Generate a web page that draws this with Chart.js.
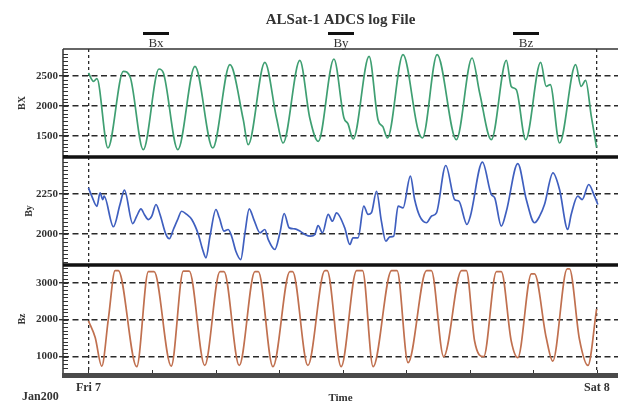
<!DOCTYPE html>
<html>
<head>
<meta charset="utf-8">
<script src="https://cdn.jsdelivr.net/npm/chart.js@4/dist/chart.umd.min.js"></script>
<style>
html,body{margin:0;padding:0;background:#fff;}
#wrap{width:618px;height:407px;}
</style>
</head>
<body>
<div id="wrap"><canvas id="c" width="618" height="407"></canvas></div>
<script>
// ---------- data (hours since Fri 7 00:00) ----------
const chartTitle = 'ALSat-1 ADCS log File';
const seriesNames = ['Bx', 'By', 'Bz'];
const axisTitles = ['BX', 'By', 'Bz'];

const timeTicks = [0, 3, 6, 9, 12, 15, 18, 21, 24];
const timeTickLabels = ['Fri 7', '', '', '', '', '', '', '', 'Sat 8'];
const dateLabel = 'Jan200';
const timeTitle = 'Time';

const bxTicks = [1500, 2000, 2500];
const byTicks = [2000, 2250];
const bzTicks = [1000, 2000, 3000];

const bxTime = [0, 0.24, 0.40, 0.92, 1.65, 1.97, 2.59, 3.33, 3.54, 4.22, 5.03, 5.87, 6.68, 7.31, 7.54, 8.33, 8.88, 9.19, 9.98, 10.45, 10.85, 11.59, 12.06, 12.25, 12.50, 13.25, 13.67, 13.90, 14.12, 14.85, 15.56, 15.77, 16.46, 17.37, 18.11, 18.47, 19.02, 19.73, 19.96, 20.20, 20.64, 21.35, 21.61, 21.80, 22.24, 23.00, 23.26, 23.47, 23.74, 23.99];
const bxValues = [2550, 2410, 2455, 1300, 2577, 2483, 1272, 2617, 2550, 1272, 2660, 1300, 2688, 1772, 1355, 2727, 1800, 1383, 2760, 1800, 1410, 2783, 1805, 1705, 1450, 2827, 1772, 1655, 1467, 2855, 1605, 1467, 2855, 1438, 2800, 2217, 1438, 2760, 2327, 2272, 1438, 2727, 2327, 2355, 1383, 2688, 2327, 2427, 1827, 1305];

const byTime = [0.00, 0.16, 0.40, 0.55, 0.68, 0.74, 1.18, 1.49, 1.70, 2.09,
  2.28, 2.48, 2.64, 2.83, 2.99, 3.19, 3.38, 3.66, 3.82, 4.01,
  4.20, 4.40, 4.64, 4.88, 5.19, 5.39, 5.55, 5.74, 6.02, 6.18,
  6.40, 6.60, 6.76, 6.96, 7.19, 7.39, 7.59, 7.81, 8.10, 8.33,
  8.49, 8.80, 9.04, 9.24, 9.48, 9.75, 9.98, 10.22, 10.49, 10.69,
  10.84, 11.05, 11.32, 11.52, 11.71, 12.10, 12.34, 12.49, 12.73, 13.00,
  13.20, 13.36, 13.60, 13.83, 14.04, 14.23, 14.41, 14.62, 14.85, 15.20,
  15.40, 15.64, 15.96, 16.19, 16.43, 16.87, 17.29, 17.49, 17.87, 18.03,
  18.60, 19.02, 19.18, 19.49, 19.73, 20.27, 20.67, 21.06, 21.30, 21.53,
  21.93, 22.24, 22.63, 22.79, 23.10, 23.31, 23.62, 23.89, 24.05];
const byValues = [2288, 2235, 2172, 2256, 2214, 2235, 2044, 2183, 2273, 2064,
  2110, 2156, 2121, 2089, 2110, 2183, 2121, 1996, 1969, 2027,
  2085, 2141, 2121, 2089, 1996, 1902, 1850, 1985, 2152, 2100,
  2017, 2027, 1985, 1891, 1839, 2006, 2156, 2089, 2006, 2027,
  1964, 1902, 2006, 2127, 2037, 2031, 2017, 1996, 1985, 1996,
  2052, 2006, 2121, 2079, 2131, 2037, 1933, 1975, 1975, 2173,
  2121, 2131, 2266, 2079, 1954, 1981, 1985, 2173, 2162, 2360,
  2214, 2110, 2069, 2110, 2131, 2427, 2214, 2204, 2058, 2110,
  2448, 2246, 2225, 2048, 2141, 2439, 2214, 2069, 2110, 2183,
  2381, 2277, 2027, 2121, 2235, 2214, 2308, 2235, 2183];

const bzTime = [0.00, 0.32, 0.63, 0.94, 1.26, 1.41, 2.28, 2.83, 3.10, 3.91, 4.48, 4.76, 5.49, 6.21, 6.40, 7.12, 7.86, 8.02, 8.71, 9.51, 9.64, 10.36, 11.16, 11.27, 11.93, 12.66, 12.94, 13.44, 14.31, 14.57, 15.09, 15.96, 16.19, 16.77, 17.61, 17.84, 18.23, 18.66, 19.26, 19.49, 19.96, 20.27, 20.91, 21.06, 21.61, 21.92, 22.60, 22.71, 23.18, 23.58, 23.99];
const bzValues = [1967, 1515, 741, 2014, 3330, 3330, 725, 3303, 3303, 741, 3313, 3313, 760, 3303, 3303, 760, 3303, 3303, 725, 3303, 3303, 760, 3330, 3330, 725, 3330, 3330, 725, 3330, 3330, 834, 3330, 3330, 997, 3330, 3330, 1422, 997, 3303, 3303, 1422, 970, 3240, 3240, 1515, 877, 3376, 3376, 1469, 760, 2286];

// ---------- styling ----------
const serif = 'Liberation Serif, Times New Roman, serif';
const ink = '#333333';
const clear = 'rgba(0,0,0,0)';
const colors = ['#3f9f72', '#3f5fbf', '#c0704f'];

function pts(t, v) { return t.map((x, i) => ({ x: x, y: v[i] })); }

function yScale(min, max, major, minorStep, title, titlePad) {
  return {
    type: 'linear', position: 'left', stack: 'panels', stackWeight: 1,
    min: min, max: max,
    afterFit: s => { s.width = 63; },
    afterBuildTicks: s => {
      const t = [];
      for (let v = Math.ceil(min / minorStep) * minorStep; v <= max; v += minorStep) t.push({ value: v });
      s.ticks = t;
    },
    ticks: {
      autoSkip: false, padding: 1, color: ink,
      font: { family: serif, weight: 'bold', size: 11 },
      callback: v => major.includes(v) ? String(v) : ''
    },
    grid: {
      color: c => (c.tick && major.includes(c.tick.value)) ? '#2a2a2a' : clear,
      lineWidth: 1.4,
      drawTicks: true, tickLength: 4, tickBorderDash: [],
      tickColor: c => (c.tick && major.includes(c.tick.value)) ? ink : clear
    },
    border: { display: false, dash: [6, 3.5] },
    title: { display: true, text: title, color: ink, font: { family: serif, weight: 'bold', size: 10 }, padding: { top: titlePad, bottom: 0 } }
  };
}

const framePlugin = {
  id: 'frame',
  afterDraw(chart) {
    const { ctx, chartArea: a, scales } = chart;
    ctx.save();
    // inward ruler ticks on y axes
    ctx.strokeStyle = ink; ctx.lineWidth = 1;
    ['yBx', 'yBy', 'yBz'].forEach(id => {
      const s = scales[id];
      s.ticks.forEach(t => {
        const y = s.getPixelForValue(t.value);
        if (y < s.top + 2 || y > s.bottom - 2) return;
        ctx.beginPath(); ctx.moveTo(a.left, Math.round(y) + 0.5); ctx.lineTo(a.left + 5, Math.round(y) + 0.5); ctx.stroke();
      });
    });
    // x ticks (inward)
    const sx = scales.x;
    sx.ticks.forEach(t => {
      const x = Math.round(sx.getPixelForValue(t.value)) + 0.5;
      ctx.beginPath(); ctx.moveTo(x, a.bottom); ctx.lineTo(x, a.bottom - 3); ctx.stroke();
    });
    // top border & left axis
    ctx.strokeStyle = ink; ctx.lineWidth = 1.5;
    ctx.beginPath(); ctx.moveTo(a.left, a.top); ctx.lineTo(a.right, a.top); ctx.stroke();
    ctx.beginPath(); ctx.moveTo(a.left, a.top); ctx.lineTo(a.left, a.bottom); ctx.stroke();
    // panel separators
    ctx.strokeStyle = '#111'; ctx.lineWidth = 3.5;
    ['yBy', 'yBz'].forEach(id => {
      const s = scales[id];
      ctx.beginPath(); ctx.moveTo(a.left, s.top); ctx.lineTo(a.right, s.top); ctx.stroke();
    });
    // bottom bar
    ctx.fillStyle = '#4a4a4a';
    ctx.fillRect(a.left - 1, a.bottom, a.right - a.left + 1, 5);
    // legend (bar above each name)
    const centers = [156, 341, 526];
    ctx.font = '13px ' + serif; ctx.fillStyle = ink; ctx.textAlign = 'center'; ctx.textBaseline = 'middle';
    seriesNames.forEach((n, i) => {
      ctx.strokeStyle = '#111'; ctx.lineWidth = 3;
      ctx.beginPath(); ctx.moveTo(centers[i] - 13, 33.5); ctx.lineTo(centers[i] + 13, 33.5); ctx.stroke();
      ctx.fillText(n, centers[i], 44);
    });
    // date label
    ctx.font = 'bold 12px ' + serif; ctx.textAlign = 'left';
    ctx.fillText(dateLabel, 22, 397);
    ctx.restore();
  }
};

new Chart(document.getElementById('c'), {
  type: 'line',
  data: {
    datasets: [
      { label: seriesNames[0], data: pts(bxTime, bxValues), yAxisID: 'yBx', borderColor: colors[0] },
      { label: seriesNames[1], data: pts(byTime, byValues), yAxisID: 'yBy', borderColor: colors[1] },
      { label: seriesNames[2], data: pts(bzTime, bzValues), yAxisID: 'yBz', borderColor: colors[2] }
    ].map(d => Object.assign(d, { xAxisID: 'x', borderWidth: 1.7, pointRadius: 0, fill: false, cubicInterpolationMode: 'monotone' }))
  },
  options: {
    responsive: false, animation: false, devicePixelRatio: 1, events: [],
    layout: { padding: 0 },
    plugins: {
      legend: { display: false }, tooltip: { enabled: false },
      title: { display: true, text: chartTitle, fullSize: false, color: ink,
        font: { family: serif, size: 15, weight: 'bold' }, padding: { top: 11, bottom: 20 } }
    },
    scales: {
      x: {
        type: 'linear', position: 'bottom', min: -1.2, max: 25,
        afterFit: s => { s.height = 34; },
        afterBuildTicks: s => { s.ticks = timeTicks.map(v => ({ value: v })); },
        ticks: { autoSkip: false, maxRotation: 0, padding: 8, color: ink,
          font: { family: serif, weight: 'bold', size: 12 },
          callback: v => timeTickLabels[timeTicks.indexOf(v)] || '' },
        grid: { color: c => (c.tick && timeTickLabels[timeTicks.indexOf(c.tick.value)]) ? '#2a2a2a' : clear,
          lineWidth: 1.3, drawTicks: false },
        border: { display: false, dash: [3, 3] },
        title: { display: true, text: timeTitle, color: ink, font: { family: serif, weight: 'bold', size: 11 }, padding: { top: 0, bottom: 2 } }
      },
      yBz: yScale(555, 3480, bzTicks, 100, axisTitles[2], 16),
      yBy: yScale(1805, 2480, byTicks, 25, axisTitles[1], 23),
      yBx: yScale(1150, 2950, bxTicks, 62.5, axisTitles[0], 16)
    }
  },
  plugins: [framePlugin]
});
</script>
</body>
</html>
